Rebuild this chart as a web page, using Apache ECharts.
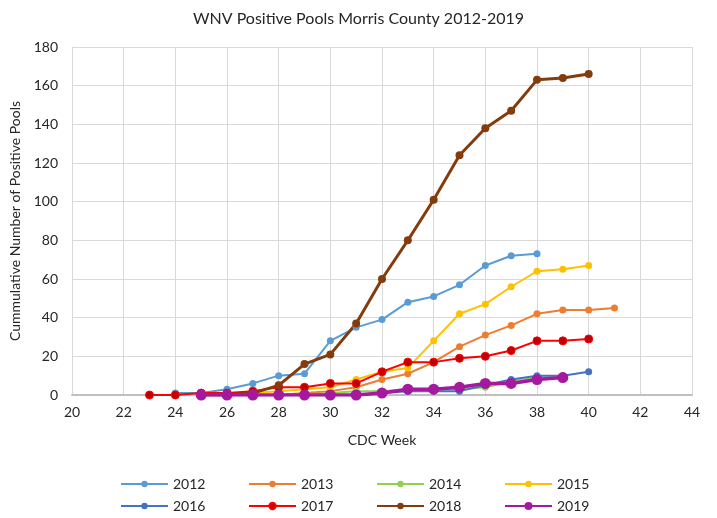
<!DOCTYPE html>
<html>
<head>
<meta charset="utf-8">
<script src="https://cdn.jsdelivr.net/npm/echarts@6/dist/echarts.min.js"></script>
<style>
  html, body { margin: 0; padding: 0; background: #fff; }
  #chart { width: 717px; height: 518px; }
</style>
</head>
<body>
<div id="chart"></div>
<script>
// CDC week of first value per series, then cumulative positive pools
const y2012Start = 24;
const y2012 = [1, 1, 3, 6, 10, 11, 28, 35, 39, 48, 51, 57, 67, 72, 73];
const y2013Start = 25;
const y2013 = [0, 0, 0, 0, 1, 2, 4, 8, 11, 17, 25, 31, 36, 42, 44, 44, 45];
const y2014Start = 25;
const y2014 = [0, 0, 0, 0, 0, 1, 2, 2, 3, 3, 3, 4, 7, 9, 9];
const y2015Start = 26;
const y2015 = [0, 1, 2, 3, 4, 8, 12, 14, 28, 42, 47, 56, 64, 65, 67];
const y2016Start = 25;
const y2016 = [0, 0, 0, 0, 0, 0, 0, 1, 2, 2, 2, 5, 8, 10, 10, 12];
const y2017Start = 23;
const y2017 = [0, 0, 1, 1, 2, 4, 4, 6, 6, 12, 17, 17, 19, 20, 23, 28, 28, 29];
const y2018Start = 25;
const y2018 = [0, 0, 1, 5, 16, 21, 37, 60, 80, 101, 124, 138, 147, 163, 164, 166];
const y2019Start = 25;
const y2019 = [0, 0, 0, 0, 0, 0, 0, 1, 3, 3, 4, 6, 6, 8, 9];

const years = ['2012', '2013', '2014', '2015', '2016', '2017', '2018', '2019'];
const yTicks = [0, 20, 40, 60, 80, 100, 120, 140, 160, 180];
const xTicks = [20, 22, 24, 26, 28, 30, 32, 34, 36, 38, 40, 42, 44];

const font = 'Lato, "Open Sans", sans-serif';

function pairs(start, vals) {
  return vals.map(function (v, i) { return [start + i, v]; });
}

function line(name, start, vals, color, width, size, markColor) {
  return {
    name: name,
    type: 'line',
    data: pairs(start, vals),
    symbol: 'circle',
    symbolSize: size,
    showAllSymbol: true,
    lineStyle: { color: color, width: width },
    itemStyle: { color: markColor || color, borderColor: color, borderWidth: markColor ? 1 : 0 }
  };
}

const chart = echarts.init(document.getElementById('chart'));

// one legend per entry so the 4 columns line up like the original
const legends = years.map(function (y, i) {
  return {
    left: 115 + (i % 4) * 128,
    top: i < 4 ? 472 : 494,
    itemWidth: 47,
    itemHeight: y === '2019' ? 10 : 8,
    data: [y],
    textStyle: { fontFamily: font, fontSize: 14, color: '#262626' }
  };
});

const option = {
  animation: false,
  backgroundColor: '#fff',
  title: {
    text: 'WNV Positive Pools Morris County 2012-2019',
    left: 'center',
    top: 6,
    textStyle: { fontFamily: font, fontSize: 16, fontWeight: 'normal', color: '#262626' }
  },
  legend: legends,
  grid: { left: 72, right: 25, top: 47, bottom: 123 },
  xAxis: {
    type: 'value',
    min: xTicks[0],
    max: xTicks[xTicks.length - 1],
    interval: 2,
    name: 'CDC Week',
    nameLocation: 'middle',
    nameGap: 38,
    nameTextStyle: { fontFamily: font, fontSize: 14, color: '#262626' },
    axisLine: { lineStyle: { color: '#BFBFBF', width: 2 } },
    axisTick: { show: false },
    axisLabel: { fontFamily: font, fontSize: 14, color: '#262626', margin: 10 },
    splitLine: { lineStyle: { color: '#D9D9D9', width: 1 } }
  },
  yAxis: {
    type: 'value',
    min: yTicks[0],
    max: yTicks[yTicks.length - 1],
    interval: 20,
    name: 'Cummulative Number of Positive Pools',
    nameLocation: 'middle',
    nameGap: 38,
    nameTextStyle: { fontFamily: font, fontSize: 14, color: '#262626' },
    axisLine: { show: true, lineStyle: { color: '#D9D9D9', width: 1 } },
    axisTick: { show: false },
    axisLabel: { fontFamily: font, fontSize: 14, color: '#262626', margin: 14 },
    splitLine: { lineStyle: { color: '#D9D9D9', width: 1 } }
  },
  series: [
    line('2012', y2012Start, y2012, '#5B9BD5', 2, 7),
    line('2013', y2013Start, y2013, '#ED7D31', 2, 7),
    line('2014', y2014Start, y2014, '#92D050', 2, 7),
    line('2015', y2015Start, y2015, '#FFC000', 2, 7),
    line('2016', y2016Start, y2016, '#4472C4', 2, 7),
    line('2017', y2017Start, y2017, '#FF0000', 2, 8, '#C00000'),
    line('2018', y2018Start, y2018, '#843C0C', 3, 8),
    line('2019', y2019Start, y2019, '#A5199E', 3.5, 11)
  ]
};

chart.setOption(option);
</script>
</body>
</html>
